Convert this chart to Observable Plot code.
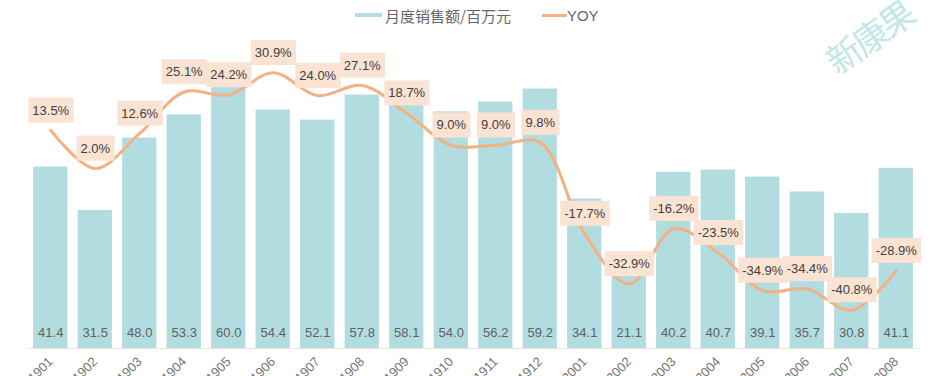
<!DOCTYPE html>
<html><head><meta charset="utf-8">
<script src="https://cdn.jsdelivr.net/npm/d3@7"></script>
<script src="https://cdn.jsdelivr.net/npm/@observablehq/plot@0.6"></script>
<style>
body{margin:0;background:#fff;font-family:"Liberation Sans","Noto Sans CJK SC",sans-serif;}
#wrap{position:relative;width:933px;height:376px;overflow:hidden;}
#legend{position:absolute;top:4px;left:355px;height:22px;display:flex;align-items:center;font-size:15px;color:#666;white-space:nowrap;}
.sw{display:inline-block;width:27px;height:4px;margin-right:3px;}
#chart{position:absolute;top:28px;left:0;width:933px;height:348px;}
#chart svg{position:absolute;top:0;left:0;max-width:none;}
#wm{position:absolute;left:820px;top:10px;font-size:35px;color:#c2e7e7;transform:rotate(-35deg);font-family:"Noto Sans CJK SC",sans-serif;letter-spacing:-3px;}
</style></head>
<body>
<div id="wrap">
  <div id="legend"><span class="sw" style="background:#b2dde0"></span><span style="font-family:'Noto Sans CJK SC',sans-serif">月度销售额/百万元</span><span style="width:31px;display:inline-block"></span><span class="sw" style="background:#f4b183;height:3px;width:25px;margin-right:0"></span><span>YOY</span></div>
  <div id="chart"></div>
  <div id="wm">新康果</div>
</div>
<script>
const months = ["201901","201902","201903","201904","201905","201906","201907","201908","201909","201910","201911","201912","202001","202002","202003","202004","202005","202006","202007","202008"];
const sales = [41.4,31.5,48.0,53.3,60.0,54.4,52.1,57.8,58.1,54.0,56.2,59.2,34.1,21.1,40.2,40.7,39.1,35.7,30.8,41.1];
const yoy = [13.5,2.0,12.6,25.1,24.2,30.9,24.0,27.1,18.7,9.0,9.0,9.8,-17.7,-32.9,-16.2,-23.5,-34.9,-34.4,-40.8,-28.9];

const rows = months.map((m,i)=>({month:m, sales:sales[i], yoy:yoy[i]}));
const W = 933, H = 348;
const common = {width:W, height:H, marginLeft:28, marginRight:15, marginTop:0, marginBottom:28,
  style:{fontFamily:"Liberation Sans, sans-serif", fontSize:"13px", background:"transparent", overflow:"visible"}};
const xopt = {domain:months, paddingInner:0.23, paddingOuter:0.115, round:false, label:null};

const p1 = Plot.plot({...common,
  x:{...xopt},
  y:{domain:[0,73], axis:null},
  marks:[
    Plot.barY(rows,{x:"month", y:"sales", fill:"#b2dde0"}),
    Plot.ruleY([0],{stroke:"#f0e4dc", strokeWidth:1}),
    Plot.text(rows,{x:"month", y:0, text:d=>d.sales.toFixed(1), dy:-16, fill:"#606060", fontSize:13}),
    Plot.axisX({tickRotate:-45, tickSize:0, tickPadding:11, fill:"#777", fontSize:13})
  ]
});
const p2 = Plot.plot({...common,
  x:{...xopt, axis:null},
  y:{domain:[-52.4,44.3], axis:null},
  marks:[
    Plot.line(rows,{x:"month", y:"yoy", stroke:"#f4b183", strokeWidth:3, curve:"catmull-rom"}),
    Plot.text(rows,{x:"month", y:"yoy", text:d=>d.yoy.toFixed(1)+"%", dy:-20, fill:"#404040", fontSize:13, className:"yoylab"})
  ]
});
const c = document.getElementById("chart");
c.appendChild(p1); c.appendChild(p2);
p2.querySelectorAll(".yoylab text").forEach(t=>{
  const bb = t.getBBox();
  const r = document.createElementNS("http://www.w3.org/2000/svg","rect");
  r.setAttribute("x", bb.x-4); r.setAttribute("y", bb.y-5);
  r.setAttribute("width", bb.width+8); r.setAttribute("height", bb.height+10);
  r.setAttribute("fill", "#fbe3d4");
  const tr = t.getAttribute("transform"); if (tr) r.setAttribute("transform", tr);
  t.parentNode.insertBefore(r, t);
});
</script>
</body></html>
